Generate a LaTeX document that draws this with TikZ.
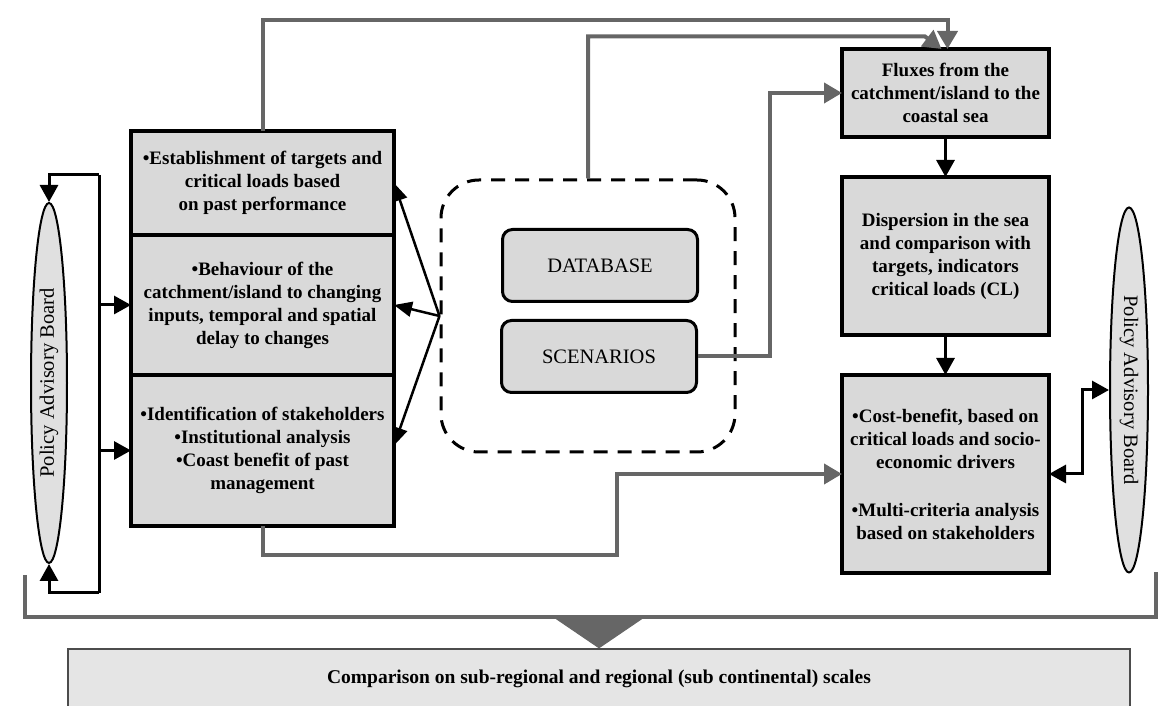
\documentclass[tikz,border=0pt]{standalone}
\usepackage{fontspec}
\setmainfont{Liberation Serif}
\usetikzlibrary{arrows.meta,chains,positioning,shapes.geometric}
\tikzset{
    box text/.style = {
        font=\bfseries\fontsize{19}{23}\selectfont,
        align=center,
        },
    plain text/.style = {
        font=\fontsize{20.5}{23}\selectfont,
        },
    stage/.style = {
        draw,
        line width=3.5pt,
        fill=black!15,
        box text,
        inner sep=0pt,
        outer sep=0pt,
        },
    advisory/.style = {
        ellipse,
        draw,
        line width=2pt,
        fill=black!12,
        plain text,
        inner sep=0pt,
        },
    pool/.style = {
        draw,
        line width=3pt,
        dash pattern=on 14pt off 10pt,
        rounded corners=38pt,
        },
    store/.style = {
        draw,
        line width=3pt,
        fill=black!15,
        rounded corners=10pt,
        minimum width=195pt,
        minimum height=72pt,
        plain text,
        },
    comparison/.style = {
        draw=black!70,
        line width=1.2pt,
        fill=black!10,
        minimum width=1062pt,
        minimum height=60pt,
        box text,
        font=\bfseries\fontsize{19.5}{23}\selectfont,
        },
    grey flow/.style = {
        draw=black!60,
        line width=4pt,
        -{Triangle[length=18pt,width=20pt]},
        },
    grey line/.style = {
        draw=black!60,
        line width=4pt,
        },
    black flow/.style = {
        draw,
        line width=3pt,
        -{Triangle[length=17pt,width=18pt]},
        },
    link/.style = {
        draw,
        line width=2.5pt,
        -{Triangle[length=18pt,width=15pt]},
        },
}

\begin{document}
\begin{tikzpicture}[
        x=1pt, y=1pt,
        LeftBlock/.style={stage, minimum width=263pt, on chain},
        RightBlock/.style={stage, minimum width=207pt, on chain},
    ]
    \useasboundingbox (0,0) rectangle (1163,706);

    % left column
    \begin{scope}[start chain=going below, node distance=0pt]
        \node [LeftBlock, minimum height=104pt] (est) at (262.5,523) {•Establishment of targets and\\critical loads based\\on past performance};
        \node [LeftBlock, minimum height=140pt] (beh) {•Behaviour of the\\catchment/island to changing\\inputs, temporal and spatial\\delay to changes};
        \node [LeftBlock, minimum height=151pt] (stk) {•Identification of stakeholders\\•Institutional analysis\\•Coast benefit of past\\management};
    \end{scope}

    % right column
    \begin{scope}[start chain=going below, node distance=40pt]
        \node [RightBlock, minimum height=88pt] (flux) at (945.5,613) {Fluxes from the\\catchment/island to the\\coastal sea};
        \node [RightBlock, minimum height=158pt] (disp) {Dispersion in the sea\\and comparison with\\targets, indicators\\critical loads (CL)};
        \node [RightBlock, minimum height=198pt] (cost) {•Cost-benefit, based on\\critical loads and socio-\\economic drivers\\[25pt]•Multi-criteria analysis\\based on stakeholders};
    \end{scope}

    \node [advisory, rotate=90, minimum width=360pt, minimum height=36pt] (lpab) at (49,323) {Policy Advisory Board};
    \node [advisory, rotate=-90, minimum width=365pt, minimum height=38pt] (rpab) at (1129,316) {Policy Advisory Board};

    \node [pool, minimum width=294pt, minimum height=272pt] (dbox) at (588,390) {};
    \node [store] (db) at (600,440.5) {DATABASE};
    \node [store] (scen) at (599,349.5) {SCENARIOS};

    \node [comparison] (cmp) at (599,27) {Comparison on sub-regional and regional (sub continental) scales};

    \coordinate (fbtop) at (99,531);
    \coordinate (fbbot) at (99,113);
    \coordinate (brL) at (25,131);
    \coordinate (brR) at (1156,134);
    \coordinate (brk) at (599,89);

    % grey flows
    \draw [grey flow] (est.north) -- ++(0,111) -| ([xshift=2pt]flux.north);
    \draw [grey flow] (dbox.north) |- ++(337,142) -- ([xshift=-4pt]flux.north);
    \draw [grey flow] (scen.east) -- ++(72,0) |- (flux.west);
    \draw [grey flow] (stk.south) -- ++(0,-29) -| ([xshift=-225pt]cost.west) -- (cost.west);

    % bracket to comparison
    \draw [grey line] (brL) |- (brk) -| (brR);
    \draw [draw=black!60, line width=1pt, -{Triangle[length=31pt,width=91pt]}] (brk) -- (cmp.north);

    % right column flow
    \draw [black flow] (flux) -- (disp);
    \draw [black flow] (disp) -- (cost);

    % database links
    \draw [link] (dbox.west) -- (est.east);
    \draw [link] (dbox.west) -- (beh.east);
    \draw [link] (dbox.west) -- ([yshift=5pt]stk.east);

    % advisory feedback
    \draw [line width=3pt] (fbtop) -- (fbbot);
    \draw [black flow] (fbtop) -| (lpab.east);
    \draw [black flow] (fbbot) -| (lpab.west);
    \draw [black flow] (fbtop |- beh.west) -- (beh.west);
    \draw [black flow] (fbtop |- stk.west) -- (stk.west);
    \draw [black flow, {Triangle[length=17pt,width=18pt]}-{Triangle[length=17pt,width=18pt]}] (cost.east) -- ++(33,0) |- (rpab.south);
\end{tikzpicture}
\end{document}
